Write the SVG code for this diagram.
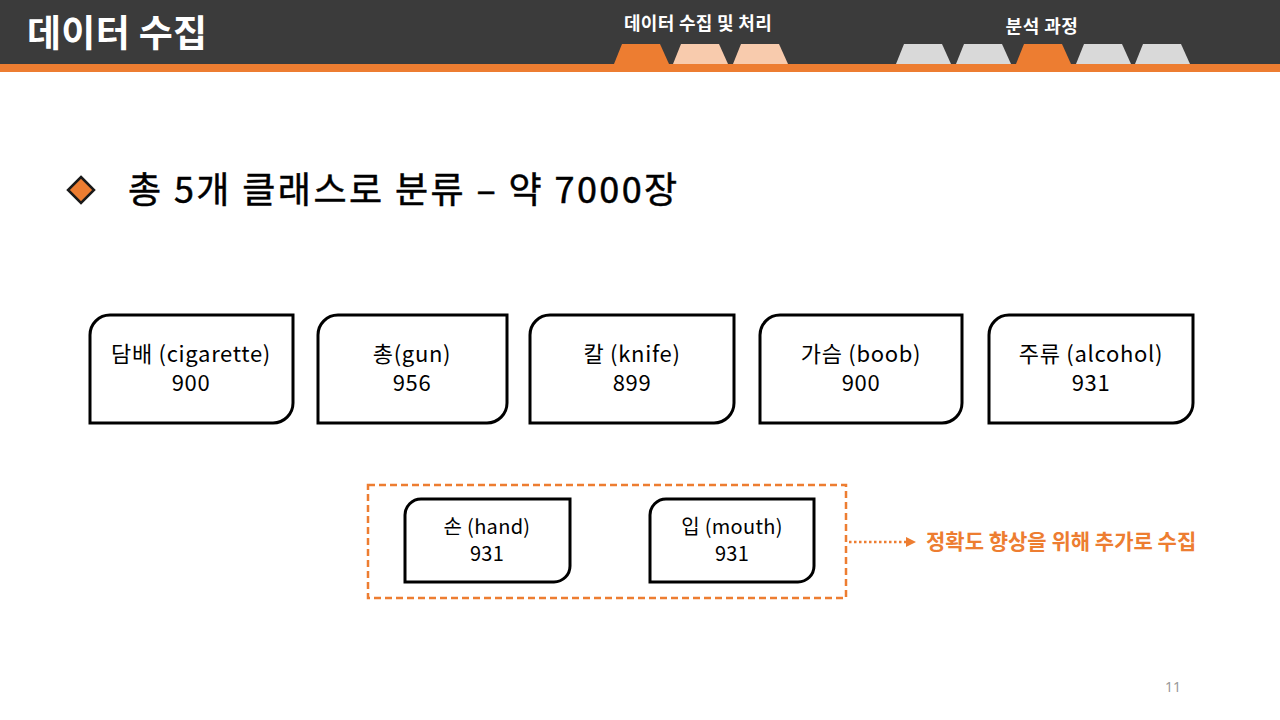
<svg xmlns="http://www.w3.org/2000/svg" width="1280" height="720" viewBox="0 0 1280 720">
<defs>
<style>
.hdr{font-family:"Noto Sans CJK KR","Noto Sans",sans-serif;font-weight:700;fill:#ffffff}
.box{fill:#ffffff;stroke:#000000;stroke-width:3}
.lbl{font-family:"Noto Sans CJK KR","Noto Sans",sans-serif;font-size:22px;letter-spacing:0.7px;fill:#000000;text-anchor:middle}
.sm{font-size:20px;letter-spacing:0.3px}
.or{fill:#ED7D31}
.pale{fill:#F8CBAD}
.gray{fill:#D9D9D9}
</style>
<marker id="arr" markerWidth="10" markerHeight="10" refX="0" refY="5" orient="auto" markerUnits="userSpaceOnUse">
<path d="M0,0 L10,5 L0,10 Z" fill="#ED7D31"/>
</marker>
</defs>
<rect width="1280" height="720" fill="#ffffff"/>
<g id="header">
<rect x="0" y="0" width="1280" height="64" fill="#3b3b3b"/>
<rect x="0" y="64" width="1280" height="8" fill="#ED7D31"/>
<text class="hdr" x="27" y="47" font-size="37" letter-spacing="0.3">데이터 수집</text>
<text class="hdr" x="698" y="30" font-size="18" letter-spacing="0.3" text-anchor="middle">데이터 수집 및 처리</text>
<text class="hdr" x="1042" y="33" font-size="18" letter-spacing="0.5" text-anchor="middle">분석 과정</text>
<polygon class="or" points="614,64 622,44 660,44 669,64"/>
<polygon class="pale" points="673,64 681,44 719,44 728,64"/>
<polygon class="pale" points="733,64 741,44 779,44 788,64"/>
<polygon class="gray" points="896,64 904,44 942,44 951,64"/>
<polygon class="gray" points="956,64 964,44 1002,44 1011,64"/>
<polygon class="or" points="1016,64 1024,44 1062,44 1071,64"/>
<polygon class="gray" points="1076,64 1084,44 1122,44 1131,64"/>
<polygon class="gray" points="1135,64 1143,44 1181,44 1190,64"/>
</g>
<g id="heading">
<polygon points="81,177 94,190 81,203 68,190" fill="#ED7D31" stroke="#1a1a1a" stroke-width="2.5"/>
<text x="128" y="203" font-family="'Noto Sans CJK KR','Noto Sans',sans-serif" font-size="36" font-weight="400" letter-spacing="2.4" fill="#000" stroke="#000" stroke-width="0.5">총 5개 클래스로 분류 – 약 7000장</text>
</g>
<g id="node-cigarette">
<path class="box" d="M110,315 H293 V403 A20,20 0 0 1 273,423 H90 V335 A20,20 0 0 1 110,315 Z"/>
<text class="lbl" x="191" y="362">담배 (cigarette)</text>
<text class="lbl" x="191" y="391">900</text>
</g>
<g id="node-gun">
<path class="box" d="M338,315 H507 V403 A20,20 0 0 1 487,423 H318 V335 A20,20 0 0 1 338,315 Z"/>
<text class="lbl" x="412" y="362">총(gun)</text>
<text class="lbl" x="412" y="391">956</text>
</g>
<g id="node-knife">
<path class="box" d="M550,315 H734 V403 A20,20 0 0 1 714,423 H530 V335 A20,20 0 0 1 550,315 Z"/>
<text class="lbl" x="632" y="362">칼 (knife)</text>
<text class="lbl" x="632" y="391">899</text>
</g>
<g id="node-boob">
<path class="box" d="M780,315 H962 V403 A20,20 0 0 1 942,423 H760 V335 A20,20 0 0 1 780,315 Z"/>
<text class="lbl" x="861" y="362">가슴 (boob)</text>
<text class="lbl" x="861" y="391">900</text>
</g>
<g id="node-alcohol">
<path class="box" d="M1009,315 H1193 V403 A20,20 0 0 1 1173,423 H989 V335 A20,20 0 0 1 1009,315 Z"/>
<text class="lbl" x="1091" y="362">주류 (alcohol)</text>
<text class="lbl" x="1091" y="391">931</text>
</g>
<g id="group-added">
<rect x="368" y="485" width="478" height="113" fill="none" stroke="#ED7D31" stroke-width="2.5" stroke-dasharray="7,4"/>
</g>
<g id="node-hand">
<path class="box" d="M421,499 H570 V566 A16,16 0 0 1 554,582 H405 V515 A16,16 0 0 1 421,499 Z"/>
<text class="lbl sm" x="487" y="534">손 (hand)</text>
<text class="lbl sm" x="487" y="561">931</text>
</g>
<g id="node-mouth">
<path class="box" d="M666,499 H814 V566 A16,16 0 0 1 798,582 H650 V515 A16,16 0 0 1 666,499 Z"/>
<text class="lbl sm" x="732" y="534">입 (mouth)</text>
<text class="lbl sm" x="732" y="561">931</text>
</g>
<g id="connectors">
<line x1="849" y1="542" x2="906" y2="542" stroke="#ED7D31" stroke-width="2.5" stroke-dasharray="2.5,2.5" marker-end="url(#arr)"/>
</g>
<g id="note">
<text x="926" y="549" font-family="'Noto Sans CJK KR','Noto Sans',sans-serif" font-size="21" font-weight="700" fill="#ED7D31">정확도 향상을 위해 추가로 수집</text>
</g>
<text x="1173" y="692" font-family="'Noto Sans','Liberation Sans',sans-serif" font-size="14" fill="#999999" text-anchor="middle">11</text>
</svg>
